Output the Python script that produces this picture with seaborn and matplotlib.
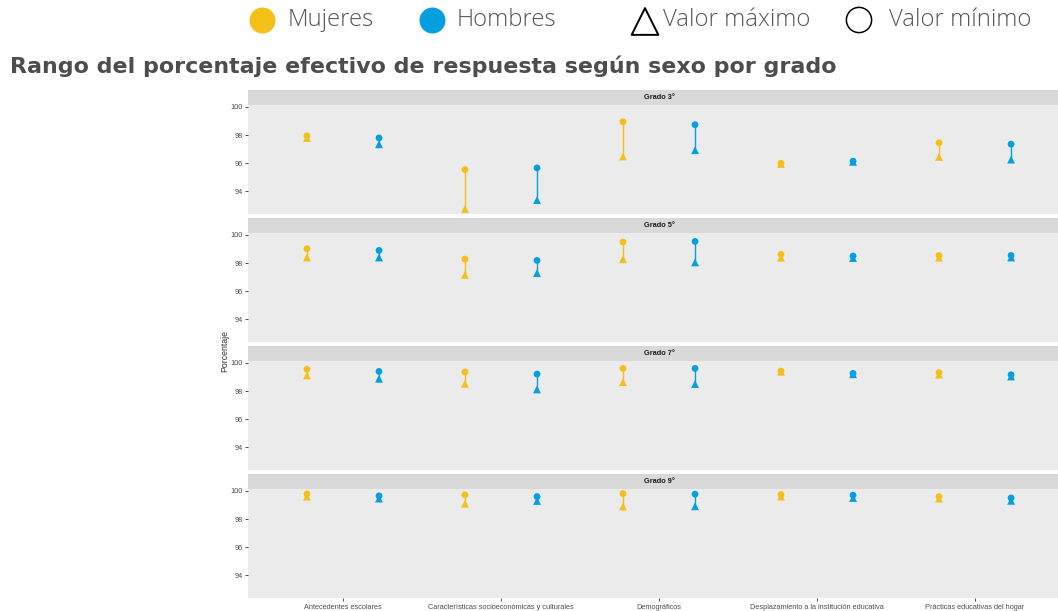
import matplotlib
matplotlib.use("Agg")
import matplotlib.pyplot as plt
import matplotlib.transforms as mtransforms
import seaborn as sns
import pandas as pd

# ---- data -----------------------------------------------------------------
categorias = [
    "Antecedentes escolares",
    "Características socioeconómicas y culturales",
    "Demográficos",
    "Desplazamiento a la institución educativa",
    "Prácticas educativas del hogar",
]
grados = ["Grado 3°", "Grado 5°", "Grado 7°", "Grado 9°"]
sexos = ["Mujeres", "Hombres"]

# circle marks ("Valor mínimo"), one row per grade
minimo_mujeres = [
    [97.95, 95.55, 98.95, 96.00, 97.45],
    [99.02, 98.28, 99.50, 98.62, 98.54],
    [99.55, 99.36, 99.61, 99.42, 99.31],
    [99.79, 99.72, 99.81, 99.74, 99.60],
]
minimo_hombres = [
    [97.80, 95.67, 98.74, 96.15, 97.36],
    [98.90, 98.19, 99.54, 98.50, 98.54],
    [99.40, 99.21, 99.61, 99.26, 99.16],
    [99.65, 99.60, 99.77, 99.70, 99.50],
]
# triangle marks ("Valor máximo"), one row per grade
maximo_mujeres = [
    [97.80, 92.75, 96.48, 95.95, 96.45],
    [98.40, 97.16, 98.28, 98.38, 98.38],
    [99.12, 98.52, 98.64, 99.38, 99.17],
    [99.60, 99.10, 98.89, 99.60, 99.46],
]
maximo_hombres = [
    [97.35, 93.38, 96.93, 96.10, 96.26],
    [98.40, 97.29, 98.05, 98.36, 98.40],
    [98.88, 98.12, 98.50, 99.20, 99.04],
    [99.46, 99.29, 98.91, 99.50, 99.30],
]

titulo = "Rango del porcentaje efectivo de respuesta según sexo por grado"
etiqueta_y = "Porcentaje"
marcas_y = [94, 96, 98, 100]

paleta = {"Mujeres": "#F5BF1A", "Hombres": "#049FDE"}
desplazamiento = {"Mujeres": -0.228, "Hombres": 0.228}

# ---- long table -------------------------------------------------------------
filas = []
for gi, g in enumerate(grados):
    for ci, c in enumerate(categorias):
        for s, mn, mx in (("Mujeres", minimo_mujeres, maximo_mujeres),
                          ("Hombres", minimo_hombres, maximo_hombres)):
            filas.append({"grado": g, "categoria": c, "sexo": s,
                          "xpos": ci + desplazamiento[s],
                          "minimo": mn[gi][ci], "maximo": mx[gi][ci]})
df = pd.DataFrame(filas)

# ---- figure -----------------------------------------------------------------
sns.set_theme(style="white")
plt.rcParams["font.family"] = ["Liberation Sans", "DejaVu Sans"]

W, H = 1058, 611
fig = plt.figure(figsize=(W / 100, H / 100), dpi=100)


def caja(x0, y0, w, h):
    """Axes rectangle from a top-left pixel box."""
    return [x0 / W, 1 - (y0 + h) / H, w / W, h / H]


XLIM = (-0.601, 4.525)
YLIM = (92.38, 100.16)
panel_x, panel_w = 248, 810
strip_h, plot_h = 14.7, 109.5

for i, g in enumerate(grados):
    top = 90 + 128 * i
    sax = fig.add_axes(caja(panel_x, top, panel_w, strip_h))
    ax = fig.add_axes(caja(panel_x, top + strip_h, panel_w, plot_h))
    sub = df[df["grado"] == g]

    for s in sexos:
        ss = sub[sub["sexo"] == s]
        ax.vlines(ss["xpos"], ss["minimo"], ss["maximo"],
                  colors=paleta[s], lw=1.0, zorder=1)
    sns.scatterplot(data=sub, x="xpos", y="maximo", hue="sexo",
                    hue_order=sexos, palette=paleta, marker="^", s=32,
                    linewidth=0, legend=False, ax=ax, zorder=2)
    sns.scatterplot(data=sub, x="xpos", y="minimo", hue="sexo",
                    hue_order=sexos, palette=paleta, marker="o", s=24,
                    linewidth=0, legend=False, ax=ax, zorder=3)

    ax.set_facecolor("#EBEBEB")
    ax.set_xlim(*XLIM)
    ax.set_ylim(*YLIM)
    for sp in ax.spines.values():
        sp.set_visible(False)
    ax.set_xlabel("")
    ax.set_ylabel("")
    ax.set_yticks(marcas_y)
    ax.set_yticklabels([str(v) for v in marcas_y])
    ax.tick_params(axis="y", left=True, length=2.5, width=0.6, color="#333333",
                   labelsize=5.3, labelcolor="#4D4D4D", pad=1.5)
    if i == len(grados) - 1:
        ax.set_xticks(range(len(categorias)))
        ax.set_xticklabels(categorias)
        ax.tick_params(axis="x", bottom=True, length=2.5, width=0.6,
                       color="#333333", labelsize=5.3, labelcolor="#4D4D4D",
                       pad=1.5)
    else:
        ax.set_xticks([])

    sax.set_facecolor("#D9D9D9")
    sax.set_xlim(*XLIM)
    sax.set_xticks([])
    sax.set_yticks([])
    for sp in sax.spines.values():
        sp.set_visible(False)
    tr = mtransforms.blended_transform_factory(sax.transData, sax.transAxes)
    sax.text(2, 0.5, g, transform=tr, ha="center", va="center",
             fontsize=5.3, fontweight="bold", color="#1A1A1A")

fig.text(225 / W, 1 - 351 / H, etiqueta_y, rotation=90, ha="center",
         va="center", fontsize=6.3, color="#333333")

# ---- title --------------------------------------------------------------------
t = fig.text(10 / W, 1 - 73 / H, titulo, fontsize=16, fontweight="bold",
             family=["DejaVu Sans"], color="#4D4D4D",
             ha="left", va="baseline")
fig.canvas.draw()
r = fig.canvas.get_renderer()
ancho = t.get_window_extent(r).width
t.set_fontsize(16 * 826 / ancho)

# ---- legend -------------------------------------------------------------------
lax = fig.add_axes([0, 0, 1, 1], zorder=-1)
lax.set_xlim(0, W)
lax.set_ylim(H, 0)
lax.axis("off")
yc = 20
lax.scatter([262], [yc], s=350, color=paleta["Mujeres"], linewidths=0)
lax.scatter([432], [yc], s=350, color=paleta["Hombres"], linewidths=0)
lax.scatter([645], [yc + 1.5], s=370, marker="^", facecolors="none",
            edgecolors="black", linewidths=1.4)
lax.scatter([859], [yc], s=330, marker="o", facecolors="none",
            edgecolors="black", linewidths=1.1)

textos = [(288, "Mujeres"), (457, "Hombres"), (663, "Valor máximo"),
          (889, "Valor mínimo")]
objs = []
for x, s in textos:
    objs.append(lax.text(x, yc, s, fontsize=15, fontweight="light",
                         family=["Open Sans", "DejaVu Sans"], color="#555555",
                         ha="left", va="center"))
fig.canvas.draw()
r = fig.canvas.get_renderer()
w_ref = objs[3].get_window_extent(r).width
for o in objs:
    o.set_fontsize(15 * 143 / w_ref)

fig.savefig("out.png", dpi=100)
